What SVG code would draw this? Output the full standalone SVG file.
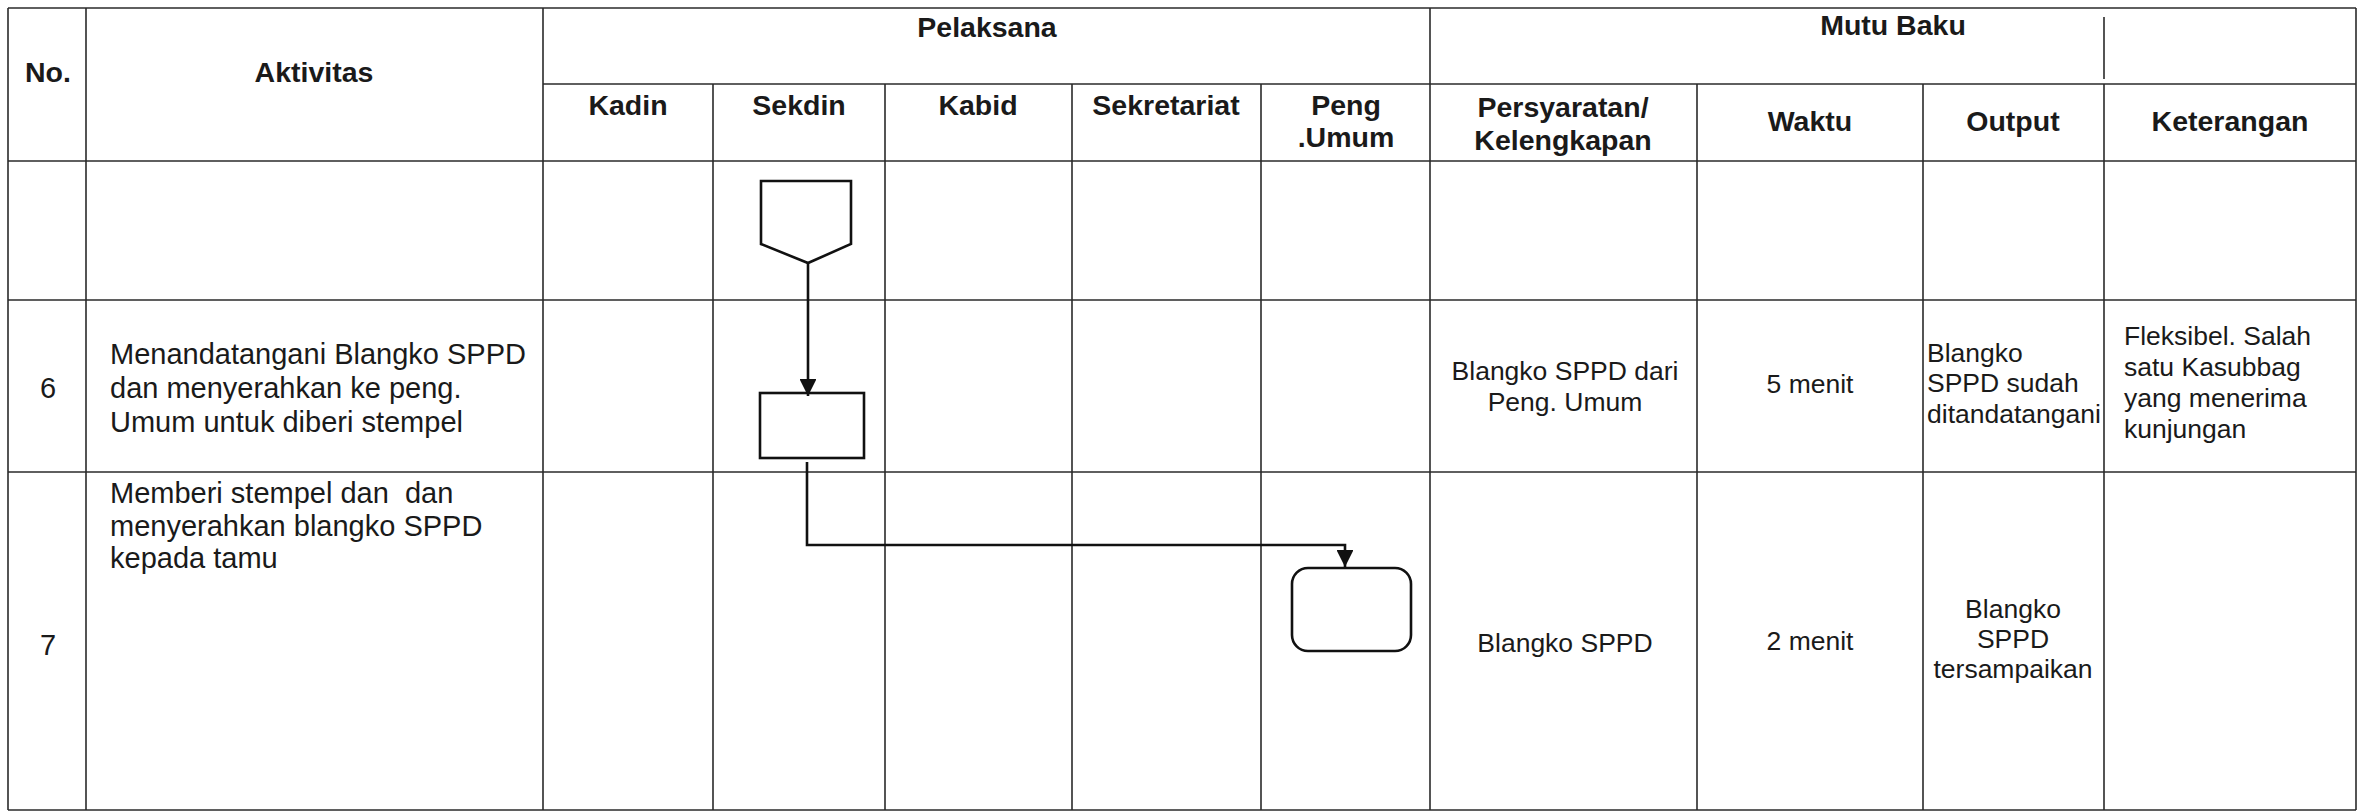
<svg xmlns="http://www.w3.org/2000/svg" width="2360" height="812" viewBox="0 0 2360 812">
<style>
.grid{stroke:#2a2a2a;stroke-width:1.6;fill:none}
.shape{stroke:#111;stroke-width:2.6;fill:#fff}
.conn{stroke:#111;stroke-width:2.6;fill:none}
.h{font-family:"Liberation Sans",Arial,sans-serif;font-weight:bold;font-size:28.5px;fill:#1a1a1a;text-anchor:middle}
.t{font-family:"Liberation Sans",Arial,sans-serif;font-size:29px;fill:#1a1a1a;white-space:pre}
.s{font-family:"Liberation Sans",Arial,sans-serif;font-size:26.5px;fill:#1a1a1a}
.c{text-anchor:middle}
</style>
<defs>
<marker id="arr" viewBox="0 0 10 10" refX="10" refY="5" markerWidth="6.5" markerHeight="6.5" markerUnits="strokeWidth" orient="auto">
<path d="M0,0 L10,5 L0,10 z" fill="#111"/>
</marker>
</defs>
<rect width="2360" height="812" fill="#fff"/>
<g id="table">
<line class="grid" x1="8" y1="8" x2="2356" y2="8"/>
<line class="grid" x1="543" y1="84" x2="2356" y2="84"/>
<line class="grid" x1="8" y1="161" x2="2356" y2="161"/>
<line class="grid" x1="8" y1="300" x2="2356" y2="300"/>
<line class="grid" x1="8" y1="472" x2="2356" y2="472"/>
<line class="grid" x1="8" y1="810" x2="2356" y2="810"/>
<line class="grid" x1="8" y1="8" x2="8" y2="810"/>
<line class="grid" x1="86" y1="8" x2="86" y2="810"/>
<line class="grid" x1="543" y1="8" x2="543" y2="810"/>
<line class="grid" x1="713" y1="84" x2="713" y2="810"/>
<line class="grid" x1="885" y1="84" x2="885" y2="810"/>
<line class="grid" x1="1072" y1="84" x2="1072" y2="810"/>
<line class="grid" x1="1261" y1="84" x2="1261" y2="810"/>
<line class="grid" x1="1430" y1="8" x2="1430" y2="810"/>
<line class="grid" x1="1697" y1="84" x2="1697" y2="810"/>
<line class="grid" x1="1923" y1="84" x2="1923" y2="810"/>
<line class="grid" x1="2104" y1="84" x2="2104" y2="810"/>
<line class="grid" x1="2104" y1="17" x2="2104" y2="79"/>
<line class="grid" x1="2356" y1="8" x2="2356" y2="810"/>
</g>
<g id="headers">
<text class="h" x="48" y="82">No.</text>
<text class="h" x="314" y="82">Aktivitas</text>
<text class="h" x="987" y="37">Pelaksana</text>
<text class="h" x="1893" y="35">Mutu Baku</text>
<text class="h" x="628" y="115">Kadin</text>
<text class="h" x="799" y="115">Sekdin</text>
<text class="h" x="978" y="115">Kabid</text>
<text class="h" x="1166" y="115">Sekretariat</text>
<text class="h" x="1346" y="115">Peng</text>
<text class="h" x="1346" y="147">.Umum</text>
<text class="h" x="1563" y="117">Persyaratan/</text>
<text class="h" x="1563" y="150">Kelengkapan</text>
<text class="h" x="1810" y="131">Waktu</text>
<text class="h" x="2013" y="131">Output</text>
<text class="h" x="2230" y="131">Keterangan</text>
</g>
<g id="row6">
<text class="t c" x="48" y="398">6</text>
<text class="t" x="110" y="364">Menandatangani Blangko SPPD</text>
<text class="t" x="110" y="398">dan menyerahkan ke peng.</text>
<text class="t" x="110" y="432">Umum untuk diberi stempel</text>
<text class="s c" x="1565" y="380">Blangko SPPD dari</text>
<text class="s c" x="1565" y="411">Peng. Umum</text>
<text class="s c" x="1810" y="393">5 menit</text>
<text class="s" x="1927" y="362">Blangko</text>
<text class="s" x="1927" y="392">SPPD sudah</text>
<text class="s" x="1927" y="423">ditandatangani</text>
<text class="s" x="2124" y="345">Fleksibel. Salah</text>
<text class="s" x="2124" y="376">satu Kasubbag</text>
<text class="s" x="2124" y="407">yang menerima</text>
<text class="s" x="2124" y="438">kunjungan</text>
</g>
<g id="row7">
<text class="t c" x="48" y="655">7</text>
<text class="t" x="110" y="503" xml:space="preserve">Memberi stempel dan  dan</text>
<text class="t" x="110" y="536">menyerahkan blangko SPPD</text>
<text class="t" x="110" y="568">kepada tamu</text>
<text class="s c" x="1565" y="652">Blangko SPPD</text>
<text class="s c" x="1810" y="650">2 menit</text>
<text class="s c" x="2013" y="618">Blangko</text>
<text class="s c" x="2013" y="648">SPPD</text>
<text class="s c" x="2013" y="678">tersampaikan</text>
</g>
<g id="node-offpage">
<polygon class="shape" points="761,181 851,181 851,244 808,263 761,244"/>
</g>
<g id="node-sekdin-process">
<rect class="shape" x="760" y="393" width="104" height="65"/>
</g>
<g id="node-peng-umum-end">
<rect class="shape" x="1292" y="568" width="119" height="83" rx="16" ry="16"/>
</g>
<g id="connectors">
<line class="conn" x1="808" y1="263" x2="808" y2="396" marker-end="url(#arr)"/>
<polyline class="conn" points="807,462 807,545 1345,545 1345,567" marker-end="url(#arr)"/>
</g>
</svg>
